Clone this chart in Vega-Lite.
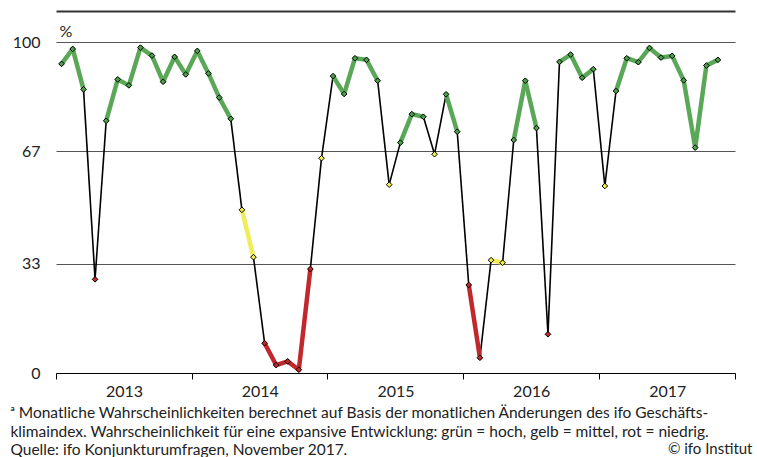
{
  "$schema": "https://vega.github.io/schema/vega-lite/v6.json",
  "autosize": "none",
  "width": 679,
  "height": 331,
  "padding": {"left": 56, "top": 42, "right": 22, "bottom": 84},
  "background": "white",
  "config": {
    "view": {"stroke": null},
    "font": "Lato",
    "axis": {"labelFont": "Lato", "titleFont": "Lato"}
  },
  "data": {
    "values": [
      {"date": "2013-01-16", "v": 93.4, "cat": "hoch"},
      {"date": "2013-02-15", "v": 97.9, "cat": "hoch"},
      {"date": "2013-03-16", "v": 85.7, "cat": "hoch"},
      {"date": "2013-04-16", "v": 28.3, "cat": "niedrig"},
      {"date": "2013-05-16", "v": 76.2, "cat": "hoch"},
      {"date": "2013-06-16", "v": 88.7, "cat": "hoch"},
      {"date": "2013-07-16", "v": 86.9, "cat": "hoch"},
      {"date": "2013-08-16", "v": 98.3, "cat": "hoch"},
      {"date": "2013-09-16", "v": 95.9, "cat": "hoch"},
      {"date": "2013-10-16", "v": 88.0, "cat": "hoch"},
      {"date": "2013-11-16", "v": 95.5, "cat": "hoch"},
      {"date": "2013-12-16", "v": 90.2, "cat": "hoch"},
      {"date": "2014-01-16", "v": 97.3, "cat": "hoch"},
      {"date": "2014-02-15", "v": 90.5, "cat": "hoch"},
      {"date": "2014-03-16", "v": 83.2, "cat": "hoch"},
      {"date": "2014-04-16", "v": 76.8, "cat": "hoch"},
      {"date": "2014-05-16", "v": 49.3, "cat": "mittel"},
      {"date": "2014-06-16", "v": 35.0, "cat": "mittel"},
      {"date": "2014-07-16", "v": 9.0, "cat": "niedrig"},
      {"date": "2014-08-16", "v": 2.4, "cat": "niedrig"},
      {"date": "2014-09-16", "v": 3.5, "cat": "niedrig"},
      {"date": "2014-10-16", "v": 1.0, "cat": "niedrig"},
      {"date": "2014-11-16", "v": 31.4, "cat": "niedrig"},
      {"date": "2014-12-16", "v": 64.9, "cat": "mittel"},
      {"date": "2015-01-16", "v": 89.7, "cat": "hoch"},
      {"date": "2015-02-15", "v": 84.3, "cat": "hoch"},
      {"date": "2015-03-16", "v": 95.1, "cat": "hoch"},
      {"date": "2015-04-16", "v": 94.6, "cat": "hoch"},
      {"date": "2015-05-16", "v": 88.3, "cat": "hoch"},
      {"date": "2015-06-16", "v": 56.9, "cat": "mittel"},
      {"date": "2015-07-16", "v": 69.6, "cat": "hoch"},
      {"date": "2015-08-16", "v": 78.2, "cat": "hoch"},
      {"date": "2015-09-16", "v": 77.4, "cat": "hoch"},
      {"date": "2015-10-16", "v": 66.1, "cat": "mittel"},
      {"date": "2015-11-16", "v": 84.2, "cat": "hoch"},
      {"date": "2015-12-16", "v": 72.9, "cat": "hoch"},
      {"date": "2016-01-16", "v": 26.6, "cat": "niedrig"},
      {"date": "2016-02-15", "v": 4.6, "cat": "niedrig"},
      {"date": "2016-03-16", "v": 34.1, "cat": "mittel"},
      {"date": "2016-04-16", "v": 33.3, "cat": "mittel"},
      {"date": "2016-05-16", "v": 70.4, "cat": "hoch"},
      {"date": "2016-06-16", "v": 88.3, "cat": "hoch"},
      {"date": "2016-07-16", "v": 74.0, "cat": "hoch"},
      {"date": "2016-08-16", "v": 11.7, "cat": "niedrig"},
      {"date": "2016-09-16", "v": 94.0, "cat": "hoch"},
      {"date": "2016-10-16", "v": 96.2, "cat": "hoch"},
      {"date": "2016-11-16", "v": 89.2, "cat": "hoch"},
      {"date": "2016-12-16", "v": 91.8, "cat": "hoch"},
      {"date": "2017-01-16", "v": 56.5, "cat": "mittel"},
      {"date": "2017-02-15", "v": 85.2, "cat": "hoch"},
      {"date": "2017-03-16", "v": 95.1, "cat": "hoch"},
      {"date": "2017-04-16", "v": 93.9, "cat": "hoch"},
      {"date": "2017-05-16", "v": 98.2, "cat": "hoch"},
      {"date": "2017-06-16", "v": 95.3, "cat": "hoch"},
      {"date": "2017-07-16", "v": 95.8, "cat": "hoch"},
      {"date": "2017-08-16", "v": 88.4, "cat": "hoch"},
      {"date": "2017-09-16", "v": 68.1, "cat": "hoch"},
      {"date": "2017-10-16", "v": 92.9, "cat": "hoch"},
      {"date": "2017-11-16", "v": 94.6, "cat": "hoch"}
    ],
    "format": {"parse": {"date": "date"}}
  },
  "resolve": {"axis": {"x": "independent"}},
  "layer": [
    {
      "transform": [
        {"window": [
          {"op": "lead", "field": "date", "as": "date2"},
          {"op": "lead", "field": "v", "as": "v2"}
        ], "sort": [{"field": "date"}]},
        {"filter": "datum.date2 != null"}
      ],
      "mark": {"type": "rule", "color": "black", "strokeWidth": 1.6},
      "encoding": {
        "x": {
          "field": "date", "type": "temporal",
          "scale": {"type": "utc", "domain": [{"year": 2013, "month": 1, "date": 1, "utc": true}, {"year": 2018, "month": 1, "date": 1, "utc": true}]},
          "axis": {
            "values": [
              {"year": 2013, "month": 1, "date": 1, "utc": true},
              {"year": 2014, "month": 1, "date": 1, "utc": true},
              {"year": 2015, "month": 1, "date": 1, "utc": true},
              {"year": 2016, "month": 1, "date": 1, "utc": true},
              {"year": 2017, "month": 1, "date": 1, "utc": true},
              {"year": 2018, "month": 1, "date": 1, "utc": true}
            ],
            "labelExpr": "utcyear(datum.value) >= 2018 ? '' : utcFormat(datum.value, '%Y')",
            "labelOffset": 68,
            "labelFlush": false,
            "labelOverlap": false,
            "labelFontSize": 16,
            "labelColor": "#222",
            "labelPadding": 4,
            "tickSize": 6,
            "tickColor": "black",
            "domainColor": "black",
            "domainWidth": 1.2,
            "grid": false,
            "title": [
              "ᵃ Monatliche Wahrscheinlichkeiten berechnet auf Basis der monatlichen Änderungen des ifo Geschäfts-",
              "klimaindex. Wahrscheinlichkeit für eine expansive Entwicklung: grün = hoch, gelb = mittel, rot = niedrig.",
              "Quelle: ifo Konjunkturumfragen, November 2017."
            ],
            "titleFontSize": 15.5,
            "titleFontWeight": "normal",
            "titleColor": "#222",
            "titleAlign": "left",
            "titleAnchor": "start",
            "titleBaseline": "alphabetic",
            "titleX": -46,
            "titleY": 44.5,
            "titleLineHeight": 18.5
          }
        },
        "x2": {"field": "date2"},
        "y": {
          "field": "v", "type": "quantitative",
          "scale": {"domain": [0, 100], "nice": false, "zero": true},
          "axis": {
            "values": [0, 33, 67, 100],
            "grid": true,
            "gridColor": "#555",
            "gridWidth": 1,
            "domain": false,
            "ticks": false,
            "labelFontSize": 16,
            "labelColor": "#222",
            "labelPadding": 16,
            "title": "%",
            "titleAngle": 0,
            "titleAlign": "left",
            "titleBaseline": "alphabetic",
            "titleFontSize": 16,
            "titleFontWeight": "normal",
            "titleColor": "#222",
            "titleX": 3,
            "titleY": -6
          }
        },
        "y2": {"field": "v2"}
      }
    },
    {
      "transform": [
        {"window": [
          {"op": "lead", "field": "date", "as": "date2"},
          {"op": "lead", "field": "v", "as": "v2"},
          {"op": "lead", "field": "cat", "as": "cat2"}
        ], "sort": [{"field": "date"}]},
        {"filter": "datum.date2 != null && datum.cat == datum.cat2"}
      ],
      "mark": {"type": "rule", "strokeWidth": 4.5, "strokeCap": "round"},
      "encoding": {
        "x": {
          "field": "date", "type": "temporal",
          "axis": {
            "orient": "top",
            "offset": 31,
            "domain": true,
            "domainColor": "#333",
            "domainWidth": 2.2,
            "ticks": false,
            "labels": false,
            "grid": false,
            "title": "© ifo Institut",
            "titleFontSize": 15,
            "titleFontWeight": "normal",
            "titleColor": "#222",
            "titleAlign": "right",
            "titleAnchor": "end",
            "titleBaseline": "alphabetic",
            "titleX": 696,
            "titleY": 442
          }
        },
        "x2": {"field": "date2"},
        "y": {"field": "v", "type": "quantitative"},
        "y2": {"field": "v2"},
        "color": {
          "field": "cat", "type": "nominal",
          "scale": {"domain": ["hoch", "mittel", "niedrig"], "range": ["#5AA857", "#F0EC5A", "#C0282D"]},
          "legend": null
        }
      }
    },
    {
      "mark": {"type": "point", "shape": "diamond", "filled": true, "size": 32, "stroke": "black", "strokeWidth": 1, "opacity": 1},
      "encoding": {
        "x": {"field": "date", "type": "temporal", "axis": null},
        "y": {"field": "v", "type": "quantitative"},
        "fill": {
          "field": "cat", "type": "nominal",
          "scale": {"domain": ["hoch", "mittel", "niedrig"], "range": ["#4E9E4C", "#F2EE4A", "#C0282D"]},
          "legend": null
        }
      }
    }
  ]
}
